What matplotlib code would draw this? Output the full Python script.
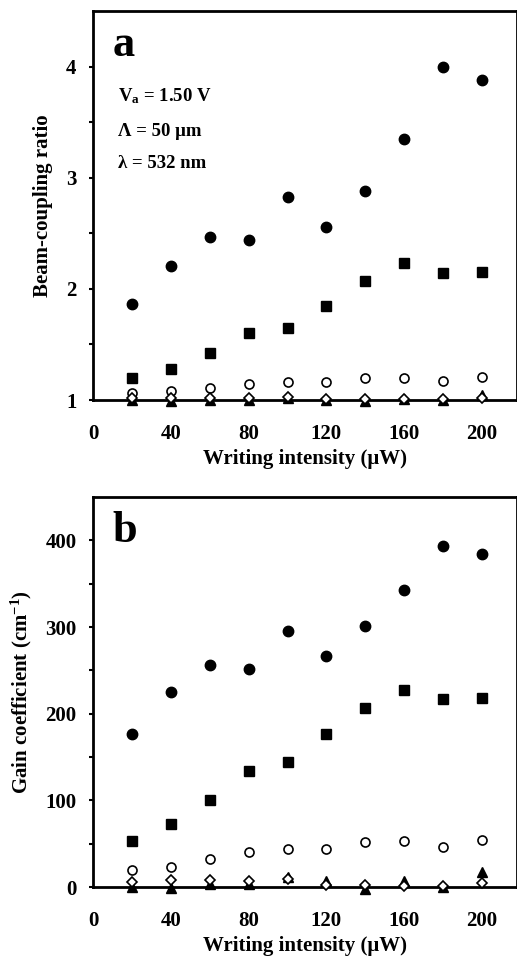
import matplotlib
matplotlib.use("Agg")
import matplotlib.pyplot as plt

plt.rcParams['font.family'] = ['Liberation Serif', 'DejaVu Serif']
plt.rcParams['font.weight'] = 'bold'
plt.rcParams['mathtext.fontset'] = 'custom'
plt.rcParams['mathtext.rm'] = 'Liberation Serif:bold'
plt.rcParams['mathtext.it'] = 'Liberation Serif:bold'
plt.rcParams['mathtext.bf'] = 'Liberation Serif:bold'

intensity = [20, 40, 60, 80, 100, 120, 140, 160, 180, 200]

# Panel a: beam-coupling ratio
a_filled_circle = [1.86, 2.21, 2.47, 2.44, 2.83, 2.56, 2.88, 3.35, 4.00, 3.88]
a_square = [1.20, 1.28, 1.42, 1.60, 1.65, 1.85, 2.07, 2.23, 2.14, 2.15]
a_open_circle = [1.065, 1.08, 1.11, 1.14, 1.165, 1.165, 1.195, 1.195, 1.17, 1.205]
a_triangle = [1.00, 0.99, 1.00, 1.00, 1.02, 1.00, 0.99, 1.01, 1.00, 1.045]
a_diamond = [1.015, 1.02, 1.02, 1.015, 1.025, 1.01, 1.01, 1.01, 1.01, 1.015]

# Panel b: gain coefficient (cm^-1)
b_filled_circle = [177, 225, 256, 252, 295, 267, 301, 343, 393, 384]
b_square = [53, 73, 100, 134, 144, 176, 207, 227, 217, 218]
b_open_circle = [19.6, 23.5, 32, 40, 44, 44, 52, 52.6, 45.7, 54.4]
b_triangle = [0, -1, 3, 4, 12, 7, -2, 7, 0, 17]
b_diamond = [6, 8, 8, 7, 9, 2, 2, 1.5, 1, 5]

xticks = [0, 40, 80, 120, 160, 200]

fig = plt.figure(figsize=(5.17, 9.6), dpi=100)
ax_a = fig.add_axes([0.180, 0.5833, 0.82, 0.4052])
ax_b = fig.add_axes([0.180, 0.0760, 0.82, 0.4063])


def draw(ax, fc, sq, oc, tri, dia):
    kw = dict(linestyle='none', clip_on=False, zorder=5)
    ax.plot(intensity, fc, marker='o', ms=7.5, mfc='black', mec='black', **kw)
    ax.plot(intensity, sq, marker='s', ms=7.5, mfc='black', mec='black', **kw)
    ax.plot(intensity, oc, marker='o', ms=6.5, mfc='white', mec='black', mew=1.2, **kw)
    ax.plot(intensity, tri, marker='^', ms=6.5, mfc='black', mec='black', **kw)
    ax.plot(intensity, dia, marker='D', ms=5, mfc='white', mec='black', mew=1.2, **kw)
    ax.set_xlim(0, 218)
    ax.set_xticks(xticks)
    ax.set_xticklabels([str(v) for v in xticks])
    for side in ['left', 'bottom', 'top', 'right']:
        ax.spines[side].set_linewidth(2)
    ax.tick_params(axis='x', length=0, pad=17, labelsize=15)
    ax.tick_params(axis='y', which='major', direction='out', length=3, width=1.5, pad=9, labelsize=15)
    ax.tick_params(axis='y', which='minor', direction='out', length=3, width=1.5)
    ax.set_xlabel('Writing intensity (\u03bcW)', fontsize=15, fontweight='bold', labelpad=4)


draw(ax_a, a_filled_circle, a_square, a_open_circle, a_triangle, a_diamond)
ax_a.set_ylim(1, 4.5)
ax_a.set_yticks([1, 2, 3, 4])
ax_a.set_yticks([1.5, 2.5, 3.5], minor=True)
ax_a.set_ylabel('Beam-coupling ratio', fontsize=15, fontweight='bold', labelpad=9)
ax_a.text(0.045, 0.965, 'a', transform=ax_a.transAxes, fontsize=32, fontweight='bold', va='top', ha='left')
ax_a.text(0.058, 0.78, r'V$_{\mathrm{a}}$ = 1.50 V', transform=ax_a.transAxes, fontsize=13.5, fontweight='bold', va='center')
ax_a.text(0.058, 0.69, '\u039b = 50 \u03bcm', transform=ax_a.transAxes, fontsize=13.5, fontweight='bold', va='center')
ax_a.text(0.058, 0.607, '\u03bb = 532 nm', transform=ax_a.transAxes, fontsize=13.5, fontweight='bold', va='center')

draw(ax_b, b_filled_circle, b_square, b_open_circle, b_triangle, b_diamond)
ax_b.set_ylim(0, 450)
ax_b.set_yticks([0, 100, 200, 300, 400])
ax_b.set_yticks([50, 150, 250, 350], minor=True)
ax_b.set_ylabel(r'Gain coefficient (cm$^{\mathrm{-1}}$)', fontsize=15, fontweight='bold', labelpad=8)
ax_b.text(0.045, 0.965, 'b', transform=ax_b.transAxes, fontsize=32, fontweight='bold', va='top', ha='left')

fig.savefig('out.png', dpi=100)
